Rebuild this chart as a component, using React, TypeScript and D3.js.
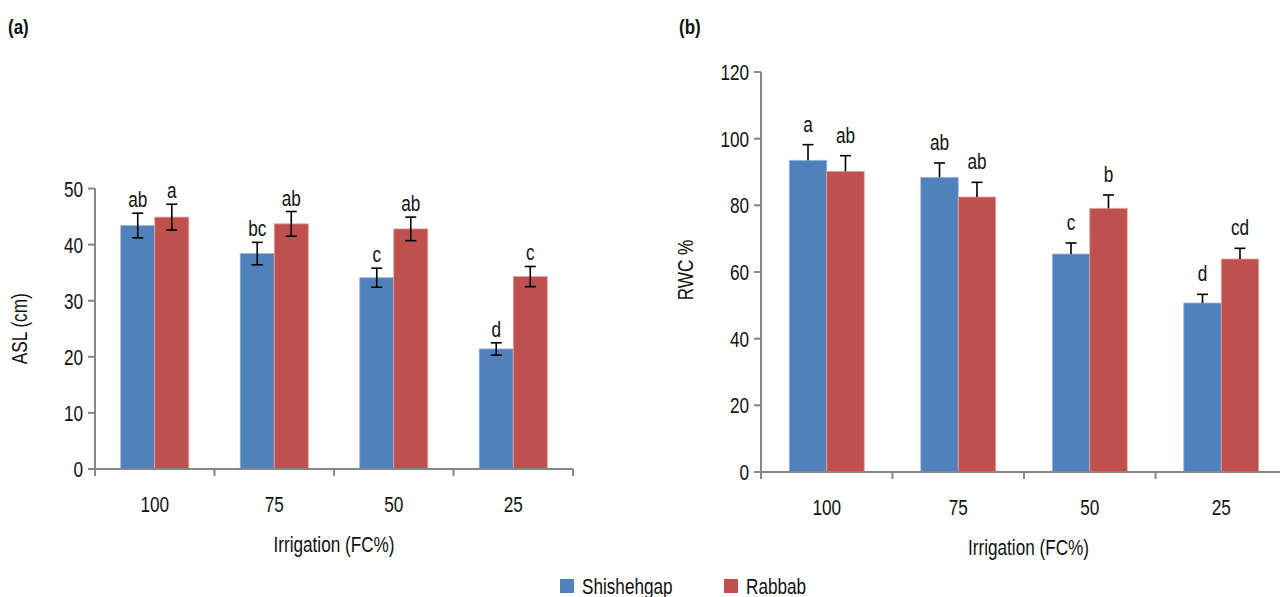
import React, { useEffect, useRef } from 'react';
import * as d3 from 'd3';

// data
const categories = ['100', '75', '50', '25'];
const seriesNames = ['Shishehgap', 'Rabbab'];
const colors = ['#4F81BD', '#C0504D'];

// panel (a) ASL (cm)
const aslShishehgap = [43.4, 38.4, 34.1, 21.4];
const aslRabbab = [44.9, 43.7, 42.8, 34.3];
const aslErrShishehgap = [2.2, 2.0, 1.7, 1.1];
const aslErrRabbab = [2.3, 2.2, 2.1, 1.8];
const aslLetters = [['ab', 'a'], ['bc', 'ab'], ['c', 'ab'], ['d', 'c']];
const aslTicks = [0, 10, 20, 30, 40, 50];

// panel (b) RWC %
const rwcShishehgap = [93.5, 88.4, 65.4, 50.7];
const rwcRabbab = [90.2, 82.5, 79.1, 63.9];
const rwcErrShishehgap = [4.7, 4.3, 3.3, 2.6];
const rwcErrRabbab = [4.7, 4.4, 4.0, 3.2];
const rwcLetters = [['a', 'ab'], ['ab', 'ab'], ['c', 'b'], ['d', 'cd']];
const rwcTicks = [0, 20, 40, 60, 80, 100, 120];

const FONT = "'Liberation Sans', Arial, sans-serif";
const FS = 22;

// condensed-looking text: regular face squeezed horizontally
const addText = (parent, x, y, str, size, anchor = 'middle', rotate = 0, weight = 'normal', squeeze = 0.78) =>
  parent
    .append('text')
    .attr('transform', `translate(${x},${y}) rotate(${rotate}) scale(${squeeze},1)`)
    .attr('text-anchor', anchor)
    .attr('font-size', size)
    .attr('font-weight', weight)
    .attr('font-family', FONT)
    .attr('fill', '#111')
    .text(str);

export default function App() {
  const ref = useRef(null);

  useEffect(() => {
    const svg = d3.select(ref.current);
    svg.selectAll('*').remove();

    const drawPanel = (opts) => {
      const { left, right, top, bottom, yMax, ticks, values, errs, letters, yTitle, yTitleX, panelLabel, panelLabelX, upperOnly, letterGap } = opts;

      const g = svg.append('g');

      const x = d3.scaleBand().domain(categories).range([left, right]).paddingInner(0).paddingOuter(0);
      const inner = d3.scaleBand().domain(seriesNames).range([0, x.bandwidth()]).paddingInner(0).paddingOuter(0.755);
      const y = d3.scaleLinear().domain([0, yMax]).range([bottom, top]);

      // bars
      categories.forEach((c, i) => {
        seriesNames.forEach((s, j) => {
          const v = values[j][i];
          const e = errs[j][i];
          const bx = x(c) + inner(s);
          const bw = inner.bandwidth();
          g.append('rect')
            .attr('x', bx)
            .attr('y', y(v))
            .attr('width', bw)
            .attr('height', y(0) - y(v))
            .attr('fill', colors[j])
            .attr('stroke', j === 0 ? '#9DB7DA' : '#E2A5A3')
            .attr('stroke-width', 0.8);

          const cx = bx + bw / 2;
          const yTop = y(v + e);
          const yBot = upperOnly ? y(v) : y(v - e);
          g.append('line').attr('x1', cx).attr('x2', cx).attr('y1', yTop).attr('y2', yBot)
            .attr('stroke', '#000').attr('stroke-width', 1.6);
          g.append('line').attr('x1', cx - 5.5).attr('x2', cx + 5.5).attr('y1', yTop).attr('y2', yTop)
            .attr('stroke', '#000').attr('stroke-width', 1.6);
          if (!upperOnly) {
            g.append('line').attr('x1', cx - 5.5).attr('x2', cx + 5.5).attr('y1', yBot).attr('y2', yBot)
              .attr('stroke', '#000').attr('stroke-width', 1.6);
          }

          addText(g, cx, yTop - letterGap, letters[i][j], FS);
        });
      });

      // y axis
      g.append('line').attr('x1', left).attr('x2', left).attr('y1', top).attr('y2', bottom)
        .attr('stroke', '#868686').attr('stroke-width', 2);
      ticks.forEach((t) => {
        g.append('line').attr('x1', left - 7).attr('x2', left).attr('y1', y(t)).attr('y2', y(t))
          .attr('stroke', '#868686').attr('stroke-width', 2);
        addText(g, left - 12, y(t) + 8, String(t), FS, 'end');
      });

      // x axis with ticks between categories
      g.append('line').attr('x1', left - 7).attr('x2', right).attr('y1', bottom).attr('y2', bottom)
        .attr('stroke', '#868686').attr('stroke-width', 2);
      const bounds = categories.map((c) => x(c)).concat([right]);
      bounds.forEach((bx) => {
        g.append('line').attr('x1', bx).attr('x2', bx).attr('y1', bottom).attr('y2', bottom + 7)
          .attr('stroke', '#868686').attr('stroke-width', 2);
      });
      categories.forEach((c) => {
        addText(g, x(c) + x.bandwidth() / 2, bottom + 43, c, FS);
      });

      // axis titles
      addText(g, (left + Math.min(right, 1280)) / 2 + (opts.xTitleShift || 0), bottom + 83, 'Irrigation (FC%)', FS);
      addText(g, yTitleX, (top + bottom) / 2 + (opts.yTitleShift || 0), yTitle, FS, 'middle', -90);

      addText(g, panelLabelX, 34, panelLabel, 20, 'start', 0, 'bold', 0.85);
    };

    drawPanel({
      left: 95, right: 573, top: 188.5, bottom: 469, yMax: 50, ticks: aslTicks,
      values: [aslShishehgap, aslRabbab], errs: [aslErrShishehgap, aslErrRabbab],
      letters: aslLetters, yTitle: 'ASL (cm)', yTitleX: 27, panelLabel: '(a)', panelLabelX: 8,
      upperOnly: false, letterGap: 6, xTitleShift: 0, yTitleShift: 0,
    });

    drawPanel({
      left: 761, right: 1287, top: 72, bottom: 472, yMax: 120, ticks: rwcTicks,
      values: [rwcShishehgap, rwcRabbab], errs: [rwcErrShishehgap, rwcErrRabbab],
      letters: rwcLetters, yTitle: 'RWC %', yTitleX: 693, panelLabel: '(b)', panelLabelX: 679,
      upperOnly: true, letterGap: 13, xTitleShift: 8, yTitleShift: -2,
    });

    // legend
    const legend = svg.append('g');
    const legendX = [560, 724];
    seriesNames.forEach((s, j) => {
      legend.append('rect').attr('x', legendX[j]).attr('y', 579).attr('width', 14).attr('height', 14)
        .attr('fill', colors[j]);
      addText(legend, legendX[j] + 22, 594, s, FS, 'start');
    });
  });

  return (
    <svg
      ref={ref}
      width={1280}
      height={597}
      style={{ position: 'absolute', left: 0, top: 0, display: 'block', background: '#fff' }}
    />
  );
}
